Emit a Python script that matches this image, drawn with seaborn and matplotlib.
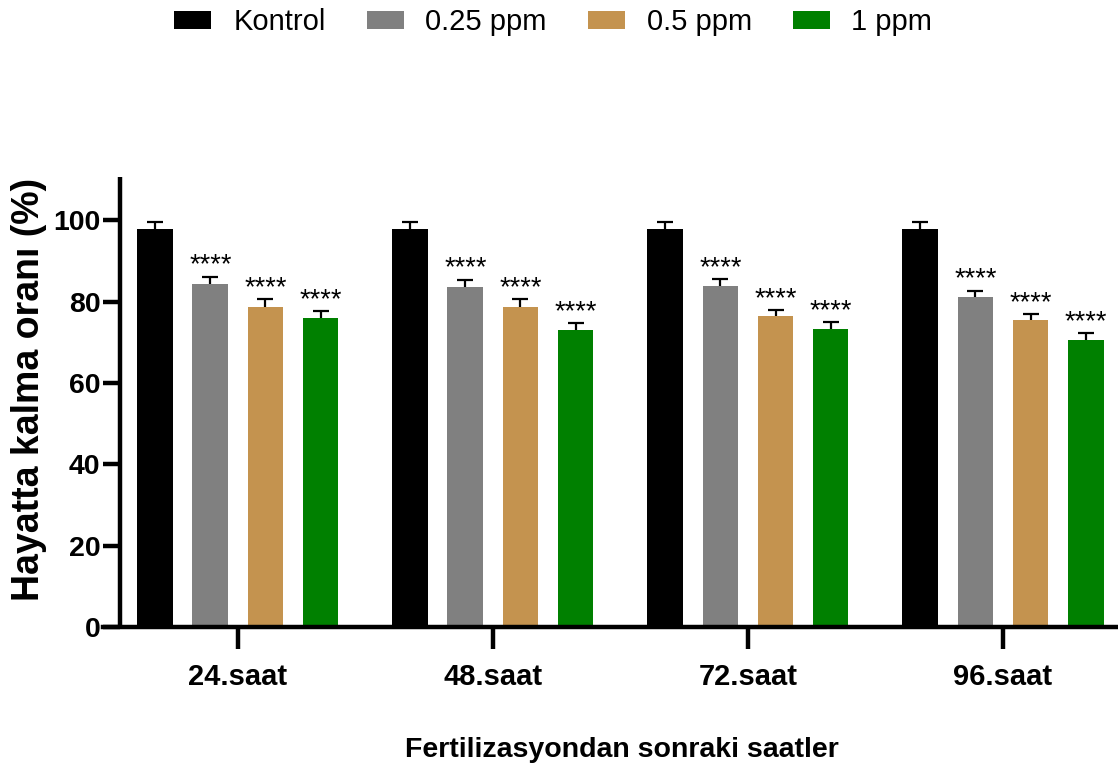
import matplotlib
matplotlib.use("Agg")
import matplotlib.pyplot as plt
from matplotlib import font_manager as fm
from matplotlib.patches import Patch
import seaborn as sns
import pandas as pd

# ---- data ----
times = ["24.saat", "48.saat", "72.saat", "96.saat"]
groups = ["Kontrol", "0.25 ppm", "0.5 ppm", "1 ppm"]
kontrol = [97.9, 97.9, 98.0, 98.0]
ppm025 = [84.5, 83.6, 83.9, 81.1]
ppm05 = [78.8, 78.8, 76.4, 75.4]
ppm1 = [76.1, 73.1, 73.4, 70.6]
sd_kontrol = [1.7, 1.7, 1.7, 1.7]
sd_ppm025 = [1.7, 1.8, 1.7, 1.6]
sd_ppm05 = [1.8, 1.8, 1.6, 1.6]
sd_ppm1 = [1.6, 1.7, 1.6, 1.7]
stars = ["", "****", "****", "****"]
colors = ["#000000", "#808080", "#C4934F", "#008000"]

means = [kontrol, ppm025, ppm05, ppm1]
sds = [sd_kontrol, sd_ppm025, sd_ppm05, sd_ppm1]

rows = []
for g, vals in zip(groups, means):
    for t, v in zip(times, vals):
        rows.append({"time": t, "group": g, "value": v})
df = pd.DataFrame(rows)

sns.set_style("ticks")
names = {f.name for f in fm.fontManager.ttflist}
NARROW = "Liberation Sans Narrow" if "Liberation Sans Narrow" in names else "Liberation Sans"
plt.rcParams["font.family"] = [NARROW, "DejaVu Sans"]
plt.rcParams["text.color"] = "black"
plt.rcParams["axes.edgecolor"] = "black"
plt.rcParams["axes.labelcolor"] = "black"
plt.rcParams["xtick.color"] = "black"
plt.rcParams["ytick.color"] = "black"

fig = plt.figure(figsize=(11.18, 7.71), dpi=100)
ax = fig.add_axes([103 / 1118, 1 - 627 / 771, 1015 / 1118, 450 / 771])

palette = dict(zip(groups, colors))
sns.barplot(data=df, x="time", y="value", hue="group", order=times,
            hue_order=groups, palette=palette, width=0.864, gap=0.35,
            errorbar=None, linewidth=0, saturation=1, legend=False, ax=ax,
            zorder=2)

for cont, gname, sdv, star in zip(ax.containers, groups, sds, stars):
    for bar, s in zip(cont, sdv):
        xc = bar.get_x() + bar.get_width() / 2
        h = bar.get_height()
        eb = ax.errorbar([xc], [h], yerr=[[0], [s]], fmt="none", ecolor="black",
                         elinewidth=1.6, capsize=6, capthick=1.6, zorder=1)
        for cl in eb[1]:
            if abs(cl.get_ydata()[0] - h) < 1e-9:
                cl.set_visible(False)
        if star:
            ax.annotate(star, (xc, h + s), xytext=(0, 3), textcoords="offset points",
                        ha="center", va="baseline", fontsize=19.5, color="black")

ax.set_xlim(-0.529, 3.451)
ax.set_ylim(0, 110.7)
ax.set_yticks([0, 20, 40, 60, 80, 100])

for side in ["top", "right"]:
    ax.spines[side].set_visible(False)
ax.spines["left"].set_position(("data", -0.463))
ax.spines["left"].set_linewidth(3.2)
ax.spines["bottom"].set_linewidth(3.2)
ax.spines["left"].set_capstyle("butt")

ax.tick_params(axis="y", length=12, width=3.2, pad=2, labelsize=20.5)
ax.tick_params(axis="x", length=16, width=3.2, pad=10, labelsize=21)
for lab in ax.get_xticklabels() + ax.get_yticklabels():
    lab.set_fontweight("bold")

ax.set_xlabel("Fertilizasyondan sonraki saatler", fontsize=20.5, fontweight="bold")
ax.xaxis.set_label_coords(0.511, -0.245)
ax.set_ylabel("Hayatta kalma oranı (%)", fontsize=27, fontweight="bold",
              family=["Liberation Sans", "DejaVu Sans"])
ax.yaxis.set_label_coords(-0.055, 0.527)

handles = [Patch(facecolor=c, edgecolor="none", label=g) for g, c in zip(groups, colors)]
fig.legend(handles=handles, loc="upper center", bbox_to_anchor=(0.495, 1.012),
           ncol=4, frameon=False, fontsize=21, handlelength=1.27, handleheight=0.62,
           handletextpad=0.75, columnspacing=1.4, borderaxespad=0.2)

fig.savefig("out.png", dpi=100)
